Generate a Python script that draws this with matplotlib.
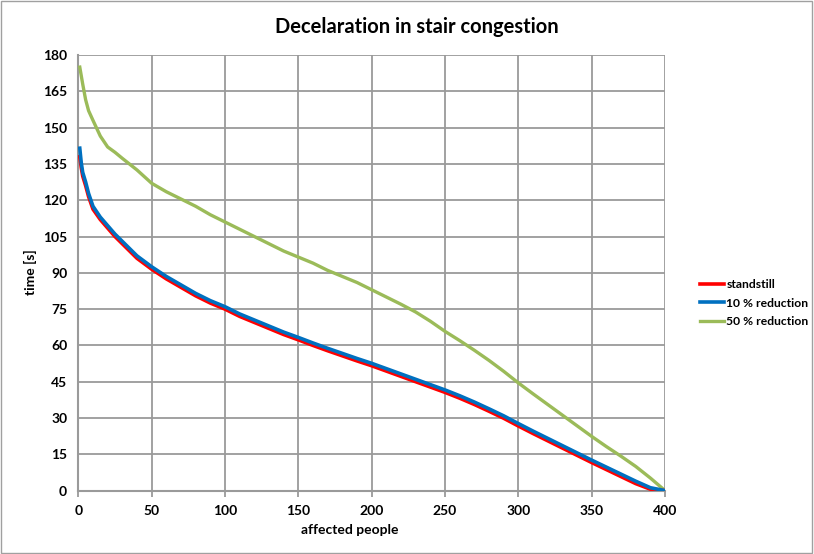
import matplotlib
matplotlib.use("Agg")
import matplotlib.pyplot as plt
from matplotlib.patches import Rectangle

plt.rcParams['font.family'] = ['Lato', 'DejaVu Sans']

x_pts = [1, 2, 3, 5, 7, 10, 15, 20, 25, 30, 40, 50, 60, 70, 80, 90, 100,
         110, 120, 130, 140, 150, 160, 170, 180, 190, 200, 210, 220, 230,
         240, 250, 260, 270, 280, 290, 300, 310, 320, 330, 340, 350, 360,
         370, 380, 390, 400]

reduction_10 = [141.5, 135.5, 131.5, 127.5, 122.8, 117.5, 113, 109.5, 106,
                103, 97, 92.5, 88.5, 85, 81.5, 78.5, 76, 73, 70.5, 68, 65.5,
                63.3, 61, 58.8, 56.7, 54.6, 52.6, 50.4, 48.2, 46, 43.8, 41.6,
                39.2, 36.6, 33.8, 30.9, 27.7, 24.6, 21.6, 18.6, 15.6, 12.6,
                9.7, 6.8, 3.9, 1.2, 0]

standstill = [138, 133.5, 130, 126, 121.5, 116.3, 112, 108.5, 105, 102, 96,
              91.5, 87.5, 84, 80.5, 77.5, 75, 72, 69.5, 67, 64.5, 62.3, 60,
              57.8, 55.7, 53.6, 51.6, 49.4, 47.2, 45, 42.8, 40.6, 38.2, 35.6,
              32.8, 29.9, 26.7, 23.6, 20.6, 17.6, 14.6, 11.6, 8.7, 5.8, 2.9,
              0.6, 0]

reduction_50 = [175, 171.5, 168, 161.5, 157, 153, 146.5, 142, 139.8, 137.3,
                132.5, 127, 123.5, 120.5, 117.5, 114, 111, 108, 105, 102,
                99, 96.5, 94, 91, 88.5, 86, 83, 80, 77, 73.8, 70, 65.8, 62,
                58, 53.8, 49.3, 44.5, 40, 35.6, 31.2, 26.8, 22.4, 18.2, 14.2,
                10, 5.2, 0]

labels = ['standstill', '10 % reduction', '50 % reduction']
colors = ['#ff0000', '#0070c0', '#9bbb59']

fig = plt.figure(figsize=(8.14, 5.54), dpi=100)
ax = fig.add_axes([0.0962, 0.1144, 0.7208, 0.7863])

l3, = ax.plot(x_pts, reduction_50, color=colors[2], lw=2.4, zorder=3)
l1, = ax.plot(x_pts, standstill, color=colors[0], lw=2.6, zorder=4)
l2, = ax.plot(x_pts, reduction_10, color=colors[1], lw=2.6, zorder=5)

ax.set_xlim(0, 400)
ax.set_ylim(0, 180)
ax.set_xticks(range(0, 401, 50))
ax.set_yticks(range(0, 181, 15))
ax.grid(True, color='#9a9a9a', lw=1.3)
ax.set_axisbelow(True)
for s in ['top', 'right']:
    ax.spines[s].set_visible(False)
for s in ['left', 'bottom']:
    ax.spines[s].set_color('#9a9a9a')
    ax.spines[s].set_linewidth(1.5)
ax.tick_params(axis='both', colors='#9a9a9a', labelcolor='black', length=4,
               width=1.3, labelsize=10)
for t in ax.get_xticklabels() + ax.get_yticklabels():
    t.set_fontweight('bold')
ax.tick_params(axis='y', length=0, pad=8)
ax.tick_params(axis='x', pad=6)

fig.text(0.430, 0.0433, 'affected people', ha='center', va='center',
         fontsize=10, fontweight='bold')
fig.text(0.037, 0.509, 'time [s]', ha='center', va='center', rotation=90,
         fontsize=10, fontweight='bold')
fig.text(0.5125, 0.951, 'Decelaration in stair congestion', ha='center',
         va='center', fontsize=14.5, fontweight='bold')


def make_legend(size):
    return fig.legend([l1, l2, l3], labels, loc='center left',
                      bbox_to_anchor=(0.846, 0.453), frameon=False,
                      prop={'weight': 'bold', 'size': size},
                      handlelength=2.0, handletextpad=0.2, labelspacing=0.6)


size = 9.5
leg = make_legend(size)
for _ in range(20):
    fig.canvas.draw()
    renderer = fig.canvas.get_renderer()
    right = max(t.get_window_extent(renderer).x1 for t in leg.get_texts())
    if right <= 809:
        break
    leg.remove()
    size -= 0.25
    leg = make_legend(size)

fig.patches.append(Rectangle((0.001, 0.001), 0.997, 0.997,
                             transform=fig.transFigure, fill=False,
                             edgecolor='#a0a0a0', lw=1))

fig.savefig('out.png', dpi=100)
